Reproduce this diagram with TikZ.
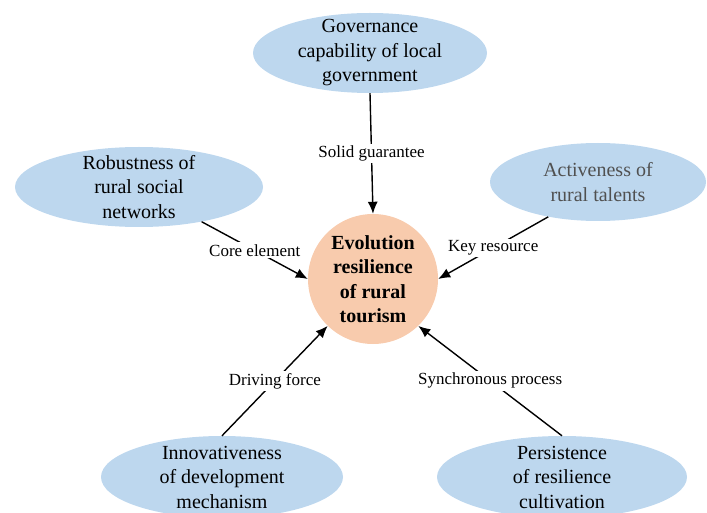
\documentclass[tikz,border=0pt]{standalone}
\usepackage{fontspec}
\setmainfont{Liberation Serif}
\usetikzlibrary{shapes.geometric,arrows.meta}
\definecolor{ellblue}{HTML}{BDD7EE}
\definecolor{corepeach}{HTML}{F8CBAD}
\definecolor{talentgray}{HTML}{505050}

\begin{document}
\begin{tikzpicture}[x=1pt, y=-1pt,
  factor/.style={ellipse, fill=ellblue, inner sep=-20pt, align=center, font=\fontsize{20}{24.5}\selectfont},
  core/.style={circle, fill=corepeach, inner sep=-20pt, minimum size=130pt, align=center, font=\fontsize{20}{24.5}\selectfont\bfseries},
  link/.style={-{Latex[length=12pt,width=10pt]}, line width=1.4pt},
  tag/.style={fill=white, inner sep=2pt, font=\fontsize{17}{20}\selectfont}]

\useasboundingbox (0,0) rectangle (707,513);
\clip (0,0) rectangle (707,513);

\node[core] (1) at (373,279) {Evolution\\resilience\\of rural\\tourism};

\node[factor, minimum width=234pt, minimum height=80pt] (2) at (370,53) {Governance\\capability of local\\government};
\node[factor, minimum width=248pt, minimum height=80pt] (3) at (139,187) {Robustness of\\rural social\\networks};
\node[factor, minimum width=216pt, minimum height=78pt, text=talentgray] (4) at (598,182) {Activeness of\\rural talents};
\node[factor, minimum width=242pt, minimum height=82pt] (5) at (222,477) {Innovativeness\\of development\\mechanism};
\node[factor, minimum width=250pt, minimum height=82pt] (6) at (562,477) {Persistence\\of resilience\\cultivation};

\draw[link] (2.south) -- node[tag] {Solid guarantee} (1.north);
\draw[link] (3.331) -- node[tag] {Core element} (1.west);
\draw[link] (4.215) -- node[tag] {Key resource} (1.east);
\draw[link] (5.north) -- node[tag] {Driving force} (1.226);
\draw[link] (6.north) -- node[tag] {Synchronous process} (1.314);

\end{tikzpicture}
\end{document}
